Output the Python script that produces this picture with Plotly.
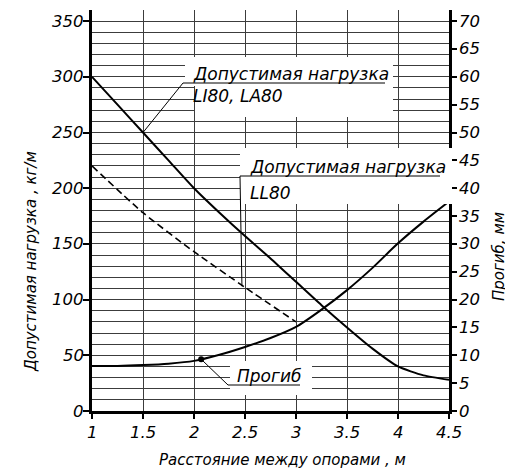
import plotly.graph_objects as go

# ---------------- data ----------------
span_m = [1.0, 1.25, 1.5, 1.75, 2.0, 2.25, 2.5, 2.75, 3.0, 3.25, 3.5, 3.75, 4.0, 4.25, 4.5]
load_li_la = [300, 275, 250, 225, 200, 178, 157, 137, 116, 95, 75, 56, 40, 32, 28]
deflection_mm = [8.1, 8.1, 8.25, 8.5, 9.0, 10.1, 11.5, 13.1, 15.1, 18.2, 21.7, 25.7, 30.1, 34.0, 37.6]

span_ll = [1.0, 1.5, 2.0, 2.5, 3.0]
load_ll = [220, 178, 143, 111, 80]

marker_span = [2.07]
marker_mm = [9.3]

x_ticks = [1, 1.5, 2, 2.5, 3, 3.5, 4, 4.5]
x_labels = ["1", "1.5", "2", "2.5", "3", "3.5", "4", "4.5"]
y_ticks = [0, 50, 100, 150, 200, 250, 300, 350]
y2_ticks = [0, 5, 10, 15, 20, 25, 30, 35, 40, 45, 50, 55, 60, 65, 70]

label_li = ["Допустимая нагрузка", "LI80, LA80"]
label_ll = ["Допустимая нагрузка", "LL80"]
label_defl = "Прогиб"
title_x = "Расстояние между опорами , м"
title_y = "Допустимая нагрузка , кг/м"
title_y2 = "Прогиб, мм"

# ---------------- geometry (page pixels; the page body has an 8px margin) ----------------
OFF = 8
W, H = 513 - OFF, 470 - OFF
L, R, T, B = 92, 449, 10, 411          # plot area in page pixels
YMAX, Y2MAX = 360, 72
K = YMAX / Y2MAX

FONT = "DejaVu Sans"


def xp(px):
    return (px - L) / (R - L)


def yp(py):
    return (B - py) / (B - T)


def xd(px):
    return 1 + (px - L) / (R - L) * 3.5


def yd(py):
    return (B - py) / (B - T) * YMAX


fig = go.Figure()

fig.add_trace(go.Scatter(x=span_m, y=load_li_la, mode="lines",
                         line=dict(color="black", width=2, shape="spline", smoothing=0.6),
                         showlegend=False, hoverinfo="skip"))
fig.add_trace(go.Scatter(x=span_ll, y=load_ll, mode="lines",
                         line=dict(color="black", width=1.6, dash="7px,4px", shape="spline", smoothing=0.6),
                         showlegend=False, hoverinfo="skip"))
fig.add_trace(go.Scatter(x=span_m, y=deflection_mm, mode="lines", yaxis="y2",
                         line=dict(color="black", width=2, shape="spline", smoothing=0.8),
                         showlegend=False, hoverinfo="skip"))
fig.add_trace(go.Scatter(x=marker_span, y=marker_mm, mode="markers", yaxis="y2",
                         marker=dict(color="black", size=6),
                         showlegend=False, hoverinfo="skip"))

shapes = []


def white_box(x0, y0, x1, y1):
    shapes.append(dict(type="rect", xref="paper", yref="paper", layer="above",
                       x0=xp(x0), x1=xp(x1), y0=yp(y1), y1=yp(y0),
                       fillcolor="white", line=dict(width=0)))


white_box(185, 57, 393, 86)
white_box(195, 86, 393, 117)
white_box(240, 148, 452, 204)
white_box(230, 361, 312, 395)


def leader(points):
    path = "M " + " L ".join(f"{x},{y}" for x, y in points)
    shapes.append(dict(type="path", xref="x", yref="y", layer="above", path=path,
                       line=dict(color="black", width=1)))


leader([(span_m[2], load_li_la[2]), (xd(183), yd(83)), (xd(385), yd(83))])
leader([(2.47, 112), (xd(240), yd(176)), (xd(440), yd(176))])
leader([(marker_span[0], marker_mm[0] * K), (xd(228), yd(385)), (xd(300), yd(385))])

annotations = []
ITALIC = dict(family=FONT, color="black", style="italic")


def text(s, px, py, size=17, angle=0, xanchor="left"):
    annotations.append(dict(text=s, xref="paper", yref="paper", x=xp(px), y=yp(py),
                            xanchor=xanchor, yanchor="middle", showarrow=False,
                            textangle=angle, font=dict(ITALIC, size=size)))


text(label_li[0], 191, 74)
text(label_li[1], 191, 96)
text(label_ll[0], 248, 167)
text(label_ll[1], 248, 193)
text(label_defl, 235, 376)
text(title_x, 282, 460, size=15, xanchor="center")
text(title_y, 31, 262, size=15, angle=-90, xanchor="center")
text(title_y2, 499, 257, size=15, angle=-90, xanchor="center")

# italic tick labels (drawn as annotations at the tick values)
TICK_SIZE = 16.5
for v, s in zip(x_ticks, x_labels):
    annotations.append(dict(text=s, xref="x", yref="paper", x=v, y=yp(432),
                            xanchor="center", yanchor="middle", showarrow=False,
                            font=dict(ITALIC, size=TICK_SIZE)))
for v in y_ticks:
    annotations.append(dict(text=str(v), xref="paper", yref="y", x=xp(86), y=v,
                            xanchor="right", yanchor="middle", showarrow=False,
                            font=dict(ITALIC, size=TICK_SIZE)))
for v in y2_ticks:
    annotations.append(dict(text=str(v), xref="paper", yref="y2", x=xp(457.5), y=v,
                            xanchor="left", yanchor="middle", showarrow=False,
                            font=dict(ITALIC, size=TICK_SIZE)))

grid = "#3c3c3c"

fig.update_layout(
    width=W, height=H,
    margin=dict(l=L - OFF, r=W - (R - OFF), t=T - OFF, b=H - (B - OFF), pad=0),
    paper_bgcolor="white", plot_bgcolor="white",
    shapes=shapes, annotations=annotations,
    xaxis=dict(range=[1, 4.5], tickvals=x_ticks, showticklabels=False,
               showgrid=True, gridcolor=grid, gridwidth=1,
               showline=True, linecolor="black", linewidth=3, ticks="outside", ticklen=5,
               tickwidth=1.5, tickcolor="black", zeroline=False,
               automargin=False, fixedrange=True),
    yaxis=dict(range=[0, YMAX], tickvals=y_ticks, showticklabels=False,
               showgrid=True, gridcolor=grid, gridwidth=1,
               minor=dict(dtick=10, tick0=0, showgrid=True, gridcolor=grid, gridwidth=1),
               showline=True, linecolor="black", linewidth=3, ticks="outside", ticklen=6,
               tickwidth=1.5, tickcolor="black", zeroline=False,
               automargin=False, fixedrange=True),
    yaxis2=dict(range=[0, Y2MAX], tickvals=y2_ticks, showticklabels=False,
                overlaying="y", side="right",
                showgrid=False, showline=True, linecolor="black", linewidth=3,
                ticks="outside", ticklen=5, tickwidth=1.5, tickcolor="black",
                zeroline=False, automargin=False, fixedrange=True),
)

fig.write_html("out.html")
